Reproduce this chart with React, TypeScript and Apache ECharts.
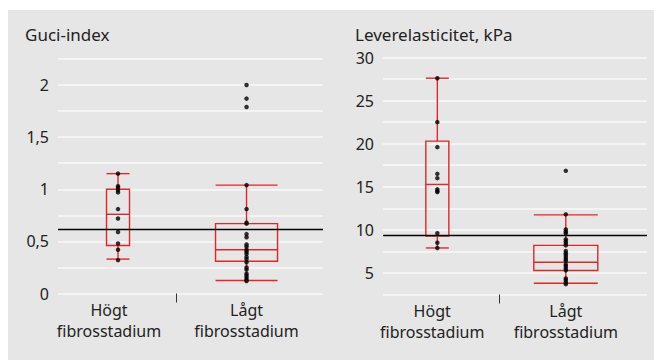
import React, { useEffect, useRef } from "react";
import * as echarts from "echarts";

// ---- Data ----
const categories = ["Högt\nfibrosstadium", "Lågt\nfibrosstadium"];

// Guci-index (left panel)
const guciHogtPoints = [1.15, 1.03, 1.015, 0.99, 0.97, 0.81, 0.72, 0.59, 0.48, 0.42, 0.32];
const guciLagtPoints = [2.0, 1.87, 1.79, 1.04, 0.81, 0.68, 0.67, 0.57, 0.54, 0.47, 0.45, 0.42, 0.4, 0.38, 0.35, 0.33, 0.3, 0.25, 0.23, 0.19, 0.17, 0.15, 0.13, 0.12];
// [min, Q1, median, Q3, max]
const guciHogtBox = [0.33, 0.46, 0.76, 1.0, 1.15];
const guciLagtBox = [0.125, 0.31, 0.42, 0.67, 1.04];
const guciCutoff = 0.62;

// Leverelasticitet (right panel)
const kpaHogtPoints = [27.6, 22.5, 19.6, 16.5, 16.0, 14.7, 14.5, 14.4, 9.6, 8.5, 7.9];
const kpaLagtPoints = [16.85, 11.8, 10.05, 9.8, 9.6, 8.9, 8.65, 8.4, 8.2, 7.55, 7.3, 7.1, 6.85, 6.6, 6.4, 6.0, 5.8, 5.55, 5.3, 4.35, 4.15, 3.9, 3.7];
const kpaHogtBox = [7.9, 9.27, 15.27, 20.3, 27.6];
const kpaLagtBox = [3.8, 5.28, 6.25, 8.2, 11.74];
const kpaCutoff = 9.35;

const guciTicks = ["0", "0,5", "1", "1,5", "2"];
const kpaTicks = ["5", "10", "15", "20", "25", "30"];

// ---- Styles / layout ----
const RED = "#e3262b";
const TXT = "#222";
const FONT = "Noto Sans";
const leftBoxWidths = [23, 62];
const rightBoxWidths = [23, 64];

function boxRenderer(widths: number[]) {
  return (params: any, api: any) => {
    const idx = api.value(0);
    const w = widths[params.dataIndex];
    const yOf = (v: number) => api.coord([idx, v])[1];
    const xc = api.coord([idx, api.value(3)])[0];
    const yMin = yOf(api.value(1));
    const yQ1 = yOf(api.value(2));
    const yMed = yOf(api.value(3));
    const yQ3 = yOf(api.value(4));
    const yMax = yOf(api.value(5));
    const st = { stroke: RED, lineWidth: 1.4, fill: "none" };
    return {
      type: "group",
      children: [
        { type: "rect", shape: { x: xc - w / 2, y: yQ3, width: w, height: yQ1 - yQ3 }, style: st },
        { type: "line", shape: { x1: xc - w / 2, y1: yMed, x2: xc + w / 2, y2: yMed }, style: st },
        { type: "line", shape: { x1: xc, y1: yQ3, x2: xc, y2: yMax }, style: st },
        { type: "line", shape: { x1: xc, y1: yQ1, x2: xc, y2: yMin }, style: st },
        { type: "line", shape: { x1: xc - w / 2, y1: yMax, x2: xc + w / 2, y2: yMax }, style: st },
        { type: "line", shape: { x1: xc - w / 2, y1: yMin, x2: xc + w / 2, y2: yMin }, style: st },
      ],
    };
  };
}

function xAxisFor(gridIndex: number, min: number, max: number, labelPos: number[], tickPos: number) {
  return {
    type: "value",
    gridIndex,
    min,
    max,
    axisLine: { show: false },
    splitLine: { show: false },
    axisTick: { show: true, customValues: [tickPos], length: 9, lineStyle: { color: "#333", width: 1 } },
    axisLabel: {
      customValues: labelPos,
      formatter: (v: number) => (v < 1.5 ? categories[0] : categories[1]),
      color: TXT,
      fontSize: 16,
      fontFamily: FONT,
      lineHeight: 21,
      margin: 6,
    },
  };
}

export default function App() {
  const ref = useRef<HTMLDivElement>(null);
  useEffect(() => {
    if (!ref.current) return;
    const chart = echarts.init(ref.current, null, { renderer: "svg" });
    const split = { show: true, lineStyle: { color: "#f8f8f8", width: 1.5 } };
    chart.setOption({
      animation: false,
      textStyle: { fontFamily: FONT },
      grid: [
        { left: 58, width: 265, top: 59, height: 234.5 },
        { left: 383, width: 264, top: 57.5, height: 237 },
      ],
      xAxis: [
        xAxisFor(0, 0.533, 2.595, [0.93, 2.0], 1.45),
        xAxisFor(1, 0.577, 2.632, [0.96, 2.0], 1.48),
      ],
      yAxis: [
        {
          type: "value",
          gridIndex: 0,
          min: 0,
          max: 2.25,
          interval: 0.25,
          axisLine: { show: false },
          axisTick: { show: false },
          splitLine: split,
          axisLabel: {
            color: TXT,
            fontSize: 16,
            fontFamily: FONT,
            margin: 9,
            formatter: (v: number) => {
              const i = Math.round(v * 2);
              return Math.abs(v * 2 - i) < 1e-6 && i < guciTicks.length ? guciTicks[i] : "";
            },
          },
        },
        {
          type: "value",
          gridIndex: 1,
          min: 2.5,
          max: 30,
          interval: 2.5,
          axisLine: { show: false },
          axisTick: { show: false },
          splitLine: split,
          axisLabel: {
            color: TXT,
            fontSize: 16,
            fontFamily: FONT,
            margin: 9,
            formatter: (v: number) => {
              const i = Math.round(v / 5) - 1;
              return Math.abs(v / 5 - Math.round(v / 5)) < 1e-6 && i >= 0 ? kpaTicks[i] : "";
            },
          },
        },
      ],
      graphic: [
        { type: "text", left: 25, top: 26, style: { text: "Guci-index", font: `17px '${FONT}'`, fill: TXT } },
        { type: "text", left: 355, top: 26, style: { text: "Leverelasticitet, kPa", font: `17px '${FONT}'`, fill: TXT } },
      ],
      series: [
        {
          type: "custom",
          xAxisIndex: 0,
          yAxisIndex: 0,
          renderItem: boxRenderer(leftBoxWidths),
          encode: { x: 0, y: [1, 2, 3, 4, 5] },
          data: [[1, ...guciHogtBox], [2, ...guciLagtBox]],
          z: 3,
          markLine: {
            silent: true,
            symbol: "none",
            label: { show: false },
            lineStyle: { color: "#000", width: 1.3, type: "solid" },
            data: [{ yAxis: guciCutoff }],
          },
        },
        {
          type: "custom",
          xAxisIndex: 1,
          yAxisIndex: 1,
          renderItem: boxRenderer(rightBoxWidths),
          encode: { x: 0, y: [1, 2, 3, 4, 5] },
          data: [[1, ...kpaHogtBox], [2, ...kpaLagtBox]],
          z: 3,
          markLine: {
            silent: true,
            symbol: "none",
            label: { show: false },
            lineStyle: { color: "#000", width: 1.3, type: "solid" },
            data: [{ yAxis: kpaCutoff }],
          },
        },
        {
          type: "scatter",
          xAxisIndex: 0,
          yAxisIndex: 0,
          symbolSize: 4.5,
          itemStyle: { color: "#000" },
          z: 5,
          data: [...guciHogtPoints.map((v) => [1, v]), ...guciLagtPoints.map((v) => [2, v])],
        },
        {
          type: "scatter",
          xAxisIndex: 1,
          yAxisIndex: 1,
          symbolSize: 4.5,
          itemStyle: { color: "#000" },
          z: 5,
          data: [...kpaHogtPoints.map((v) => [1, v]), ...kpaLagtPoints.map((v) => [2, v])],
        },
      ],
    });
    return () => chart.dispose();
  }, []);
  return (
    <div style={{ position: "absolute", left: 0, top: 0, width: 654, height: 360 }}>
      <div style={{ position: "absolute", left: 8, top: 10, width: 646, height: 350, background: "#e6e6e6" }} />
      <div ref={ref} style={{ position: "absolute", left: 0, top: 0, width: 654, height: 360 }} />
    </div>
  );
}
